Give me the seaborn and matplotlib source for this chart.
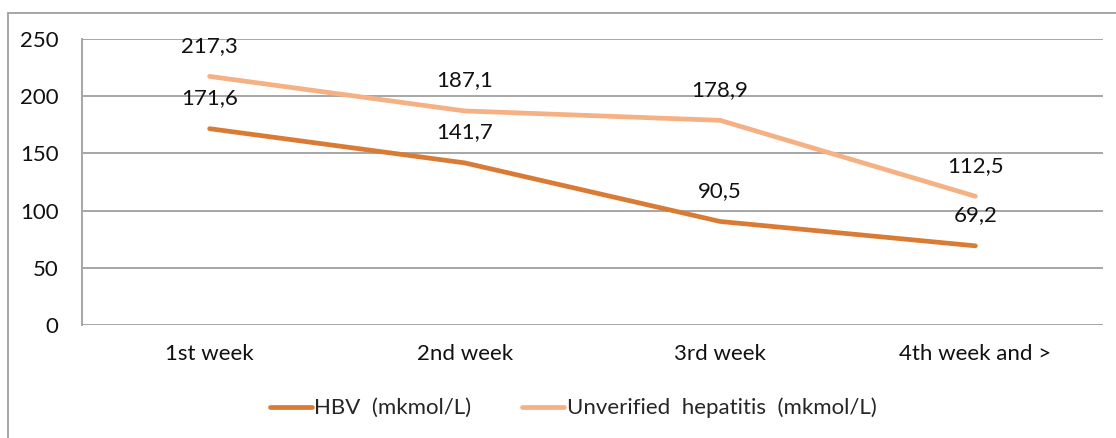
import matplotlib
matplotlib.use("Agg")
import matplotlib.pyplot as plt
from matplotlib.lines import Line2D
import seaborn as sns
import pandas as pd

weeks = ["1st week", "2nd week", "3rd week", "4th week and >"]
hbv = [171.6, 141.7, 90.5, 69.2]
unverified = [217.3, 187.1, 178.9, 112.5]
series_names = ["HBV  (mkmol/L)", "Unverified  hepatitis  (mkmol/L)"]
y_ticks = [0, 50, 100, 150, 200, 250]

df = pd.DataFrame({
    "week": weeks * 2,
    "value": hbv + unverified,
    "series": [series_names[0]] * 4 + [series_names[1]] * 4,
})

sns.set_style("white")
plt.rcParams["font.family"] = ["Lato", "DejaVu Sans"]
FS = 16

fig = plt.figure(figsize=(11.16, 4.38), dpi=100)
ax = fig.add_axes([82 / 1116, 1 - 325 / 438, (1103 - 82) / 1116, (325 - 39) / 438])

palette = {series_names[0]: "#D97B34", series_names[1]: "#F5B084"}
sns.lineplot(data=df, x="week", y="value", hue="series", palette=palette,
             sort=False, linewidth=3.4, ax=ax, legend=False,
             solid_capstyle="round")

# data labels above each point
for vals in (hbv, unverified):
    for i, v in enumerate(vals):
        ax.annotate(f"{v:.1f}".replace(".", ","), (i, v), xytext=(0, 22),
                    textcoords="offset points", ha="center", va="center",
                    fontsize=FS, color="#111111")

ax.set_xlim(-0.5, 3.5)
ax.set_ylim(0, 250)
ax.set_yticks(y_ticks)
ax.yaxis.grid(True, color="#A6A6A6", linewidth=1.4)
ax.set_axisbelow(True)
ax.tick_params(axis="both", length=0, labelsize=FS, colors="#111111")
ax.tick_params(axis="y", pad=17)
ax.tick_params(axis="x", pad=14)
ax.set_xlabel("")
ax.set_ylabel("")
for s in ["top", "right", "bottom"]:
    ax.spines[s].set_visible(False)
ax.spines["left"].set_color("#A6A6A6")
ax.spines["left"].set_linewidth(1.4)

handles = [Line2D([], [], color=palette[n], linewidth=3.4, solid_capstyle="round")
           for n in series_names]
fig.legend(handles, series_names, loc="center", bbox_to_anchor=(573 / 1116, 1 - 408 / 438),
           ncol=2, frameon=False, fontsize=FS, handlelength=1.9, handletextpad=0.1,
           columnspacing=2.3)

# outer chart border
fig.add_artist(Line2D([7.5 / 1116, 7.5 / 1116], [0, 1 - 13 / 438], color="#A6A6A6",
                      linewidth=1.4, transform=fig.transFigure))
fig.add_artist(Line2D([7.5 / 1116, 1], [1 - 13 / 438, 1 - 13 / 438], color="#A6A6A6",
                      linewidth=1.4, transform=fig.transFigure))

fig.savefig("out.png", dpi=100)
